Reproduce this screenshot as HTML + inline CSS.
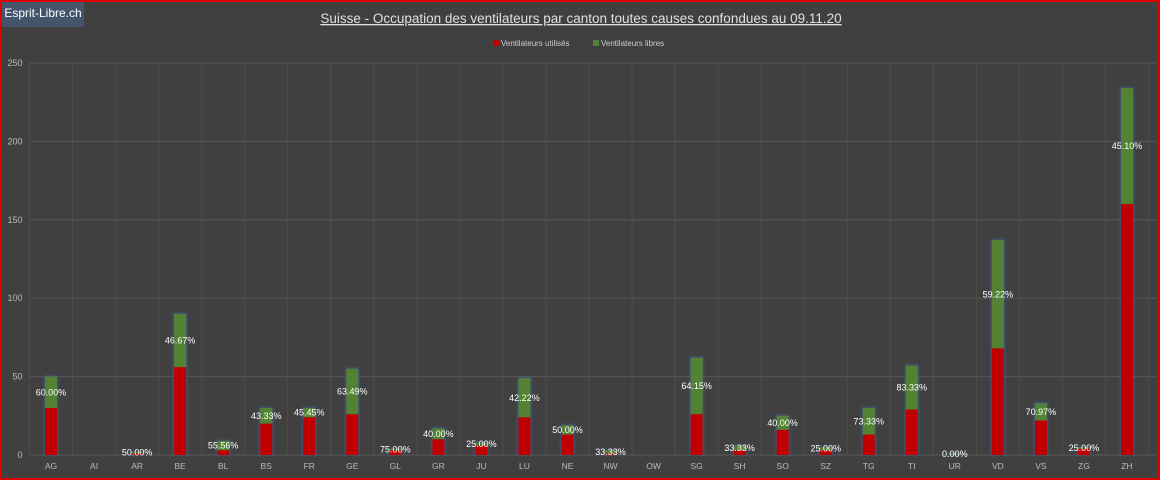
<!DOCTYPE html>
<html><head><meta charset="utf-8"><style>
html,body{margin:0;padding:0;background:#404040;}
#wrap{position:relative;width:1160px;height:480px;box-sizing:border-box;border:2px solid #e00000;background:#404040;overflow:hidden;font-family:"Liberation Sans",sans-serif;}
#badge{position:absolute;left:0;top:0;width:82px;height:25px;background:#44546a;color:#fff;font-size:12px;line-height:22px;text-align:center;}
</style></head><body>
<div id="wrap">
<svg id="chart" width="1156" height="476" style="position:absolute;left:0;top:0"></svg>
<div id="badge">Esprit-Libre.ch</div>
</div>
<script>
const categories=["AG","AI","AR","BE","BL","BS","FR","GE","GL","GR","JU","LU","NE","NW","OW","SG","SH","SO","SZ","TG","TI","UR","VD","VS","ZG","ZH"];
const usedValues=[30,0,1,56,3,20,24,26,3,10,6,24,13,1,0,26,3,16,3,13,29,0,68,22,4,160];
const totalValues=[50,0,2,90,9,30,30,55,4,17,8,49,19,3,0,62,6,25,5,30,57,1,137,33,5,234];
const pctLabels=["60.00%","","50.00%","46.67%","55.56%","43.33%","45.45%","63.49%","75.00%","40.00%","25.00%","42.22%","50.00%","33.33%","","64.15%","33.33%","40.00%","25.00%","73.33%","83.33%","0.00%","59.22%","70.97%","25.00%","45.10%"];
const yTicks=[0,50,100,150,200,250];
const NS="http://www.w3.org/2000/svg";
const svg=document.getElementById('chart');
const L=27.5,R=1146.5,Y0=453,Ytop=61,YMAX=250;
const band=(R-L)/categories.length;
const y=v=>Y0-(v/YMAX)*(Y0-Ytop);
const xc=i=>L+band*(i+0.5);
function mk(tag,attrs,text){const e=document.createElementNS(NS,tag);for(const k in attrs)e.setAttribute(k,attrs[k]);if(text!==undefined)e.textContent=text;svg.appendChild(e);return e;}
const defs=document.createElementNS(NS,'defs');
defs.innerHTML='<filter id="glowB" x="-50%" y="-20%" width="200%" height="140%"><feGaussianBlur stdDeviation="1.2"/></filter>';
svg.appendChild(defs);
let e;
e=mk('text',{x:579,y:21,'text-anchor':'middle','font-size':'13.5','fill':'#e0e0e0','text-decoration':'underline'},'Suisse - Occupation des ventilateurs par canton toutes causes confondues au 09.11.20');


e=mk('rect',{x:491,y:38,width:6,height:6,fill:'#c00000'});


e=mk('text',{x:499,y:44,'font-size':'8','fill':'#ccc'},'Ventilateurs utilisés');


e=mk('rect',{x:591,y:38,width:6,height:6,fill:'#548235'});


e=mk('text',{x:599,y:44,'font-size':'8','fill':'#ccc'},'Ventilateurs libres');


yTicks.forEach(t=>{
  e=mk('line',{x1:L,x2:R+8,y1:y(t),y2:y(t),stroke:'#575757','stroke-width':1});
  
  
  e=mk('text',{x:L-7,y:y(t)+3,'text-anchor':'end','font-size':'9','fill':'#bbb'},String(t));
  
  
});
for(let i=0;i<=categories.length;i++){
  e=mk('line',{x1:L+band*i,x2:L+band*i,y1:Ytop,y2:Y0,stroke:'#4d4d4d','stroke-width':1});
  
  
}
const bw=12;
categories.forEach((c,i)=>{
  const u=usedValues[i],t=totalValues[i],x=xc(i)-bw/2;
  if(t>0){
    e=mk('rect',{x:x-1,y:y(t)-1,width:bw+2,height:Y0-y(t)+1,fill:'#4472c4',opacity:0.5,filter:'url(#glowB)'});
    
    
    e=mk('rect',{x:x,y:y(t),width:bw,height:y(u)-y(t),fill:'#548235'});
    
    
  }
  if(u>0){
    e=mk('rect',{x:x,y:y(u),width:bw,height:Y0-y(u),fill:'#c00000'});
    
    
  }
  if(pctLabels[i]){
    let ly=Math.min((y(t)+y(u))/2+3,Y0+2);
    e=mk('text',{x:xc(i),y:ly,'text-anchor':'middle','font-size':'9','fill':'#fff'},pctLabels[i]);
    
    
  }
  e=mk('text',{x:xc(i),y:Y0+14,'text-anchor':'middle','font-size':'8.5','fill':'#bbb'},c);
  
  
});
</script>
</body></html>
